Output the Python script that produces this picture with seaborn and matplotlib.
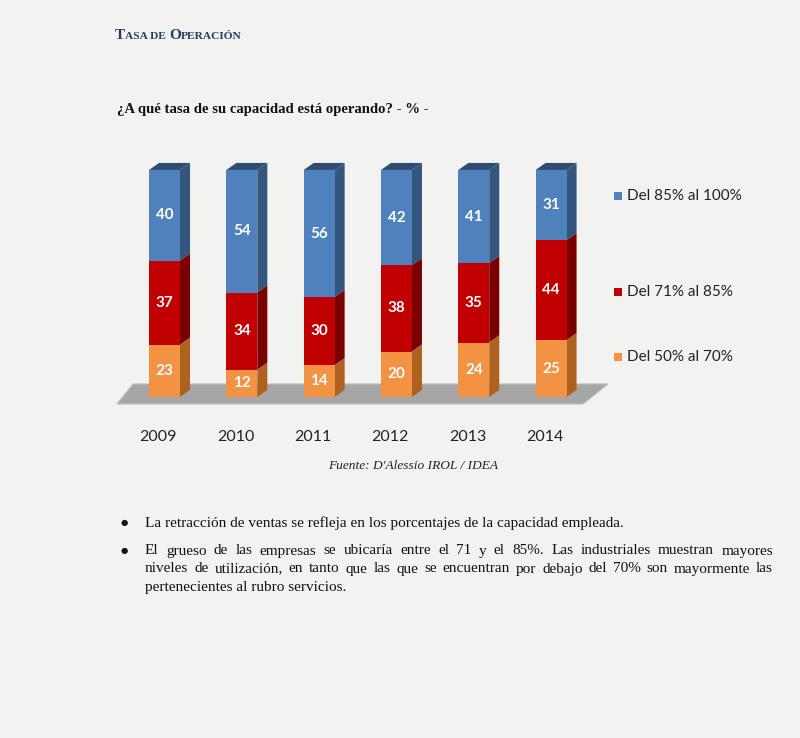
import matplotlib
matplotlib.use("Agg")
import numpy as np
import pandas as pd
import matplotlib.pyplot as plt
import seaborn as sns
from matplotlib.patches import Polygon, Rectangle
from matplotlib.offsetbox import TextArea, HPacker, AnchoredOffsetbox

# data
years = ["2009", "2010", "2011", "2012", "2013", "2014"]
high = [40, 54, 56, 42, 41, 31]   # Del 85% al 100%
mid = [37, 34, 30, 38, 35, 44]    # Del 71% al 85%
low = [23, 12, 14, 20, 24, 25]    # Del 50% al 70%
series = ["Del 85% al 100%", "Del 71% al 85%", "Del 50% al 70%"]

front = ["#4f81bd", "#c00000", "#f29243"]
side = ["#34557c", "#7a0000", "#ad621f"]
top = ["#2f4d72", "#7a0000", "#ad621f"]

bg = "#f2f2f0"

sns.set_theme(style="white")
plt.rcParams["font.family"] = ["Lato", "DejaVu Sans"]

df = pd.DataFrame({"year": years, "high": high, "mid": mid, "low": low})
df["top_high"] = df["high"] + df["mid"] + df["low"]
df["top_mid"] = df["mid"] + df["low"]
df["top_low"] = df["low"]

fig = plt.figure(figsize=(8, 7.38), dpi=100)
fig.patch.set_facecolor(bg)
ax = fig.add_axes([0.138, 0.4526, 0.6378, 0.3294])
ax.set_facecolor("none")

# grey floor
floor = Polygon([(-0.614, -3.08), (5.414, -3.08), (5.737, 5.73), (-0.407, 5.73)],
                closed=True, facecolor="#a6a6a6", edgecolor="#bdbdbd", lw=0.8,
                zorder=1, clip_on=False)
ax.add_patch(floor)

# front faces, stacked by drawing cumulative heights
for col, c in zip(["top_high", "top_mid", "top_low"], front):
    sns.barplot(data=df, x="year", y=col, color=c, width=0.4, saturation=1,
                errorbar=None, ax=ax, zorder=3, linewidth=0)

# 3d depth (side + top faces)
dx, dy = 0.13, 3.1
bounds = [(df["top_mid"], df["top_high"]), (df["top_low"], df["top_mid"]),
          (np.zeros(len(df)), df["top_low"])]
for s in range(3):
    pats = ax.patches[1 + s * 6: 1 + (s + 1) * 6]
    bots, tops = bounds[s]
    for p, b, t in zip(pats, bots, tops):
        x0 = p.get_x()
        x1 = x0 + p.get_width()
        ax.add_patch(Polygon([(x1, b), (x1 + dx, b + dy), (x1 + dx, t + dy), (x1, t)],
                             closed=True, facecolor=side[s], lw=0, zorder=2.9))
        if s == 0:
            ax.add_patch(Polygon([(x0, t), (x0 + dx, t + dy), (x1 + dx, t + dy), (x1, t)],
                                 closed=True, facecolor=top[s], lw=0, zorder=2.9))

# value labels
for s, vals in enumerate([df["high"], df["mid"], df["low"]]):
    pats = ax.patches[1 + s * 6: 1 + (s + 1) * 6]
    bots, tops = bounds[s]
    for p, v, b, t in zip(pats, vals, bots, tops):
        ax.text(p.get_x() + p.get_width() / 2, (b + t) / 2, str(v), ha="center",
                va="center", color="white", fontsize=11, fontweight="bold", zorder=5)

ax.set_xlim(-0.7, 5.9)
ax.set_ylim(-3.08, 104)
ax.set_xticks(np.arange(6) - 0.08)
ax.set_xticklabels(years, fontsize=11.5, color="#222222")
ax.set_xticks(np.arange(7) * 1.0047 - 0.614, minor=True)
ax.tick_params(axis="x", which="major", length=0, pad=19)
ax.tick_params(axis="x", which="minor", length=6, width=0.8, color="#a0a0a0", direction="out")
ax.set_yticks([])
ax.set_xlabel("")
ax.set_ylabel("")
for sp in ax.spines.values():
    sp.set_visible(False)

# legend placed beside the bars
leg_y = [196, 292, 357]
for name, c, py in zip(series, front, leg_y):
    yf = 1 - py / 738
    fig.add_artist(Rectangle((614 / 800, yf - 4 / 738), 8 / 800, 8 / 738,
                             transform=fig.transFigure, facecolor=c, lw=0))
    fig.text(627 / 800, yf, name, ha="left", va="center", fontsize=11, color="#222222")

# title in small caps
serif = ["Liberation Serif", "DejaVu Serif"]
tcol = "#243f60"
parts = [("T", 11), ("ASA DE ", 8.2), ("O", 11), ("PERACIÓN", 8.2)]
boxes = [TextArea(t, textprops=dict(family=serif, fontweight="bold", fontsize=fs, color=tcol))
         for t, fs in parts]
pack = HPacker(children=boxes, align="baseline", pad=0, sep=0)
anch = AnchoredOffsetbox(loc="lower left", child=pack, pad=0, frameon=False,
                         bbox_to_anchor=(115 / 800, 1 - 42 / 738),
                         bbox_transform=fig.transFigure, borderpad=0)
fig.add_artist(anch)

fig.text(117 / 800, 1 - 113 / 738, "¿A qué tasa de su capacidad está operando? - % -",
         family=serif, fontweight="bold", fontsize=10.6, color="#111111", va="baseline")

fig.text(413 / 800, 1 - 466 / 738, "Fuente: D'Alessio IROL / IDEA", family=serif,
         style="italic", fontsize=9.6, color="#222222", ha="center", va="center")

# bullet notes
bfs = 11
for py in [523, 551]:
    fig.text(124 / 800, 1 - py / 738, "●", family=["DejaVu Sans"], fontsize=6, ha="center",
             va="center", color="#111111")
fig.text(145 / 800, 1 - 523 / 738,
         "La retracción de ventas se refleja en los porcentajes de la capacidad empleada.",
         family=serif, fontsize=bfs, va="center", color="#111111")

lines = ["El grueso de las empresas se ubicaría entre el 71 y el 85%. Las industriales muestran mayores",
         "niveles de utilización, en tanto que las que se encuentran por debajo del 70% son mayormente las"]
renderer = fig.canvas.get_renderer()
x_left, x_right = 145, 773
for line, py in zip(lines, [551, 569]):
    words = line.split(" ")
    arts = [fig.text(0, 1 - py / 738, w, family=serif, fontsize=bfs, va="center",
                     color="#111111") for w in words]
    widths = [a.get_window_extent(renderer).width for a in arts]
    gap = (x_right - x_left - sum(widths)) / (len(words) - 1)
    x = x_left
    for a, w in zip(arts, widths):
        a.set_x(x / 800)
        x += w + gap
fig.text(145 / 800, 1 - 588 / 738, "pertenecientes al rubro servicios.", family=serif,
         fontsize=bfs, va="center", color="#111111")

fig.savefig("out.png", dpi=100, facecolor=bg)
